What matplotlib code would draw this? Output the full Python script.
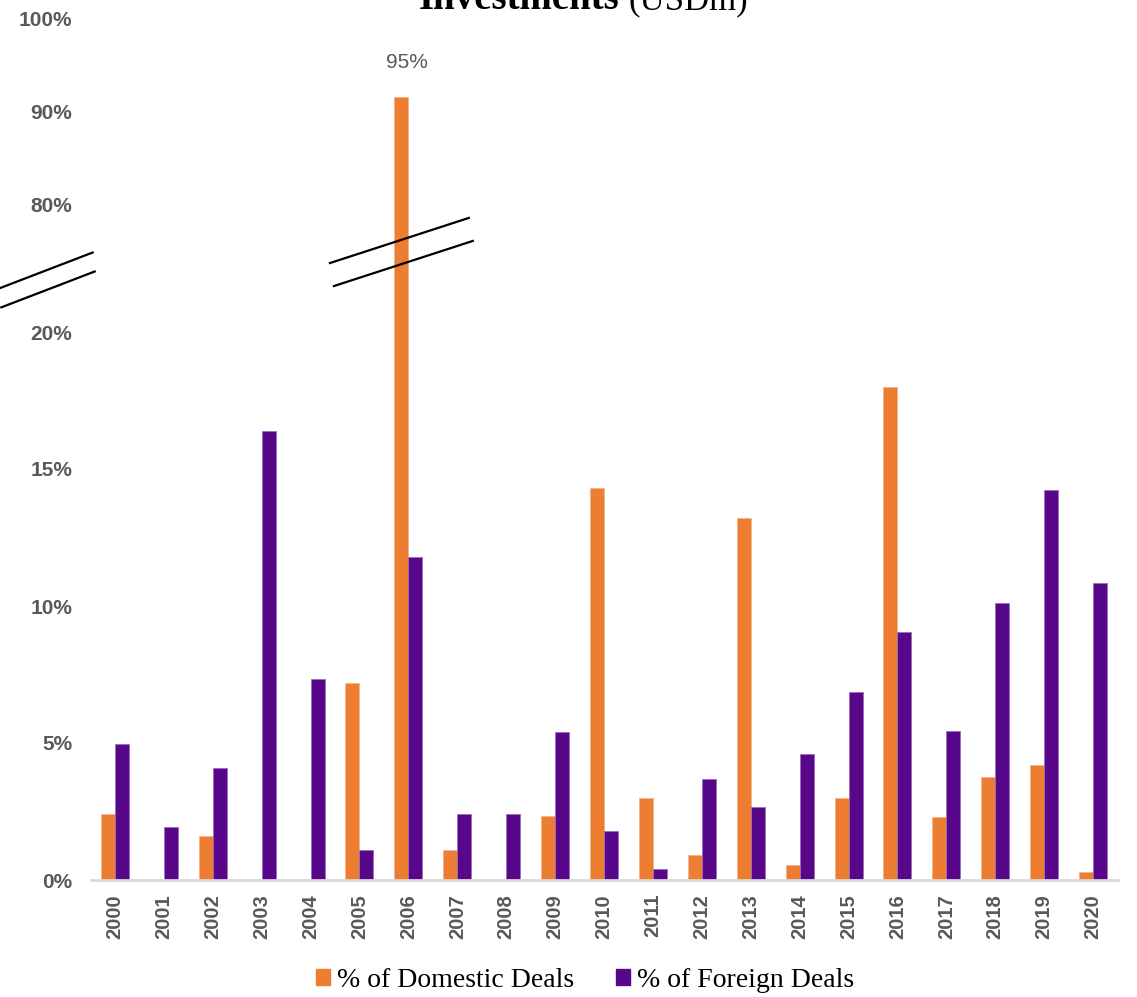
import numpy as np
import matplotlib.pyplot as plt
from matplotlib.lines import Line2D
from matplotlib.patches import Patch

# Dados (percentuais)
anos = [str(a) for a in range(2000, 2021)]
domesticos = [2.4, 0, 1.6, 0, 0, 7.2, 91.6, 1.1, 0, 2.35, 14.3,
              3.0, 0.9, 13.2, 0.55, 3.0, 18.0, 2.3, 3.75, 4.2, 0.3]
estrangeiros = [4.95, 1.95, 4.1, 16.4, 7.35, 1.1, 11.8, 2.4, 2.4, 5.4, 1.8,
                0.4, 3.7, 2.65, 4.6, 6.85, 9.05, 5.45, 10.1, 14.25, 10.85]
# rótulo escrito sobre a barra de 2006 (a barra é cortada pela quebra do eixo)
rotulo_2006 = "95%"
ticks_y = [0, 5, 10, 15, 20, 80, 90, 100]

cor_dom = '#ED7D31'
cor_est = '#58078A'
cinza = '#595959'

# Escala com quebra: 0-20% "normal", 20-80% comprimido, 80-100% reduzido
pv = np.array([0, 20, 80, 100], dtype=float)
pp = np.array([0, 548, 675, 861], dtype=float)


def fwd(v):
    v = np.asarray(v, dtype=float)
    r = np.interp(v, pv, pp)
    r = np.where(v < 0, v * 27.4, r)
    r = np.where(v > 100, 861 + (v - 100) * 9.3, r)
    return r


def inv(p):
    p = np.asarray(p, dtype=float)
    r = np.interp(p, pp, pv)
    r = np.where(p < 0, p / 27.4, r)
    r = np.where(p > 861, 100 + (p - 861) / 9.3, r)
    return r


W, H = 1137, 997
fig = plt.figure(figsize=(W / 100, H / 100), dpi=100)
ax = fig.add_axes([90.5 / W, 1 - 880 / H, 1027 / W, 861 / H])

x = np.arange(len(anos))
largura = 0.286
ax.bar(x - largura / 2, domesticos, largura, color=cor_dom, edgecolor='#F5B48A', linewidth=0.6)
ax.bar(x + largura / 2, estrangeiros, largura, color=cor_est, edgecolor='#9A6DBA', linewidth=0.6)

ax.set_yscale('function', functions=(fwd, inv))
ax.set_ylim(0, 100)
ax.set_xlim(-0.5, len(anos) - 0.5)

ax.set_yticks(ticks_y)
ax.set_yticklabels([f'{t}%' for t in ticks_y], fontsize=15, fontweight='bold', color=cinza,
                   family='Liberation Sans')
ax.set_xticks(x)
ax.set_xticklabels(anos, rotation=90, fontsize=14.5, fontweight='bold', color=cinza,
                   family='Liberation Sans')
ax.tick_params(axis='y', length=0, pad=13)
ax.tick_params(axis='x', length=0, pad=10)
ax.minorticks_off()

for lado in ['top', 'right', 'left']:
    ax.spines[lado].set_visible(False)
ax.spines['bottom'].set_color('#D9D9D9')
ax.spines['bottom'].set_linewidth(2)

# rótulo da barra de 2006
i06 = anos.index('2006')
ax.annotate(rotulo_2006, (x[i06] - largura / 2, domesticos[i06]), xytext=(4, 25),
            textcoords='offset points', ha='center', va='center', fontsize=15,
            color=cinza, family='Liberation Sans')


# Marcas de quebra do eixo (duas linhas paralelas)
def quebra(xc, yc, comp, ang, dx2, dy2):
    t = np.deg2rad(ang)
    ddx, ddy = comp / 2 * np.cos(t), comp / 2 * np.sin(t)
    for ox, oy in [(0, 0), (dx2, dy2)]:
        xs = [(xc + ox - ddx) / W, (xc + ox + ddx) / W]
        ys = [(yc + oy - ddy) / H, (yc + oy + ddy) / H]
        fig.add_artist(Line2D(xs, ys, color='black', linewidth=1.6, transform=fig.transFigure))


xm = ax.transData.transform((x[i06] - largura / 2, 0))[0]
ym = ax.transData.transform((0, 57.8))[1]
quebra(xm - 2, ym + 11.5, 146, 18, 4, -23)
xe = ax.transAxes.transform((-43.5 / 1027, 0))[0]
ye = ax.transData.transform((0, 44.6))[1]
quebra(xe - 1, ye + 9.5, 100, 21, 2, -19)

# Título (cortado no topo da imagem)
fig.text(619 / W, 1 - 9 / H, 'Investments', fontsize=28, fontweight='bold',
         family='Liberation Serif', ha='right', va='baseline')
fig.text(628 / W, 1 - 9 / H, '(USDm)', fontsize=25, family='Liberation Serif',
         ha='left', va='baseline')

# Legenda
itens = [Patch(color=cor_dom, label='% of Domestic Deals'),
         Patch(color=cor_est, label='% of Foreign Deals')]
fig.legend(handles=itens, loc='center', bbox_to_anchor=(585 / W, 1 - 980 / H), ncol=2,
           frameon=False, prop={'family': 'Liberation Serif', 'size': 20},
           handlelength=0.5, handleheight=0.5, handletextpad=0.25, columnspacing=1.5)

fig.savefig('out.png', dpi=100)
